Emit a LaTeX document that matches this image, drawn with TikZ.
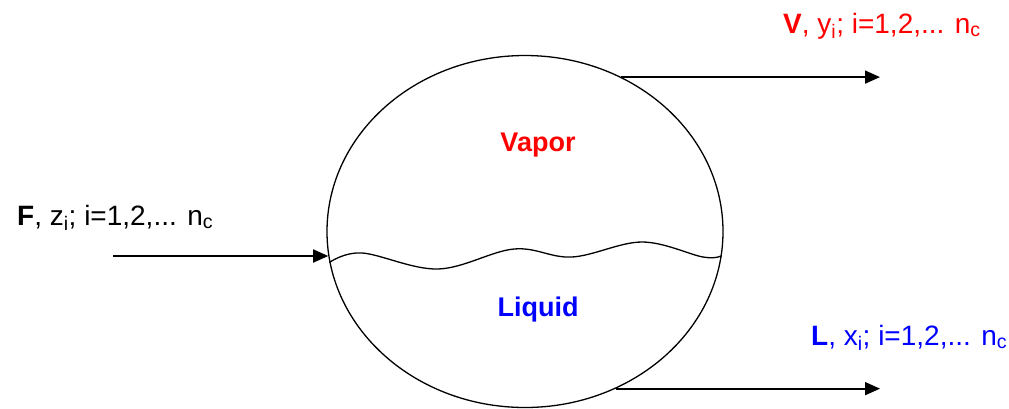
\documentclass[tikz,border=0pt]{standalone}
\usepackage{fontspec}
\setmainfont{Liberation Sans}
\usetikzlibrary{arrows.meta,shapes.geometric}
\definecolor{vapred}{RGB}{255,0,0}
\definecolor{liqblue}{RGB}{0,0,255}
\begin{document}
\begin{tikzpicture}[x=1pt,y=-1pt,
  stream/.style={line width=1.7pt,-{Triangle[length=15pt,width=13pt]}},
  vessel/.style={draw,ellipse,line width=1.3pt,inner sep=0pt,
    minimum width=396pt,minimum height=352pt},
  lbl/.style={anchor=base west,inner sep=0pt,font=\fontsize{28}{33}\selectfont},
  phase/.style={inner sep=0pt,font=\bfseries\fontsize{27}{32}\selectfont}]
\useasboundingbox (0,0) rectangle (1009,408);

% flash drum
\node[vessel] (drum) at (525,231.5) {};

% phase names
\node[phase,text=vapred] (vap) at (538,145) {Vapor};
\node[phase,text=liqblue] (liq) at (538,310) {Liquid};

% liquid surface
\draw[line width=1.3pt] plot[smooth,tension=0.6] coordinates
  {(drum.189) (362,253) (438,269) (514,249) (572,257) (642,242) (703,257) (drum.353.4)};

% stream labels
\node[lbl] (flbl) at (17,225) {\textbf{F}, z\textsubscript{i}; i=1,2,... n\textsubscript{c}};
\node[lbl,text=vapred] (vlbl) at (783,33) {\textbf{V}, y\textsubscript{i}; i=1,2,... n\textsubscript{c}};
\node[lbl,text=liqblue] (llbl) at (811,345) {\textbf{L}, x\textsubscript{i}; i=1,2,... n\textsubscript{c}};

% feed, vapour and liquid streams
\coordinate (ftail) at (113,256);
\coordinate (vtip) at (880,80);
\coordinate (ltip) at (880,390);
\draw[stream] (ftail) -- (ftail -| drum.187);
\draw[stream] (drum.58) -- (drum.58 -| vtip);
\draw[stream] (drum.-60.5) -- (drum.-60.5 -| ltip);
\end{tikzpicture}
\end{document}
